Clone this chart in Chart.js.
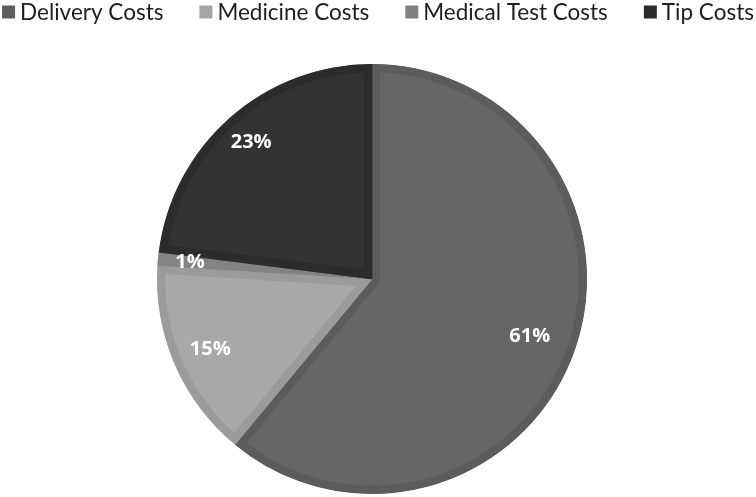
<!DOCTYPE html>
<html>
<head>
<meta charset="utf-8">
<script src="https://cdn.jsdelivr.net/npm/chart.js@4.4.0/dist/chart.umd.min.js"></script>
<style>
html,body{margin:0;padding:0;background:#fff;}
#wrap{width:756px;height:497px;}
</style>
</head>
<body>
<div id="wrap"><canvas id="c" width="756" height="497"></canvas></div>
<script>
const categories = ["Delivery Costs", "Medicine Costs", "Medical Test Costs", "Tip Costs"];
const values = [61, 15, 1, 23];
const fillColors = ["#666666", "#a8a8a8", "#8a8a8a", "#333333"];
const bandColors = ["#5c5c5c", "#9b9b9b", "#838383", "#2c2c2c"];
const legendColors = ["#5e5e5e", "#a5a5a5", "#808080", "#2a2a2a"];
const labelRadiusFrac = [0.78, 0.82, 0.85, 0.85];

const pieLabels = {
  id: 'pieLabels',
  afterDatasetsDraw(chart) {
    const ctx = chart.ctx;
    const meta = chart.getDatasetMeta(0);
    const total = values.reduce((a, b) => a + b, 0);
    ctx.save();
    ctx.fillStyle = '#ffffff';
    ctx.font = 'bold 20px "Open Sans"';
    ctx.textAlign = 'center';
    ctx.textBaseline = 'middle';
    meta.data.forEach((arc, i) => {
      const p = arc.getProps(['x', 'y', 'startAngle', 'endAngle', 'outerRadius'], true);
      const mid = (p.startAngle + p.endAngle) / 2;
      const r = p.outerRadius * labelRadiusFrac[i];
      const txt = Math.round(values[i] / total * 100) + '%';
      ctx.fillText(txt, p.x + Math.cos(mid) * r, p.y + Math.sin(mid) * r);
    });
    ctx.restore();
  }
};

// top legend drawn in one row: square box, small gap, label
const topLegend = {
  id: 'topLegend',
  afterDraw(chart) {
    const ctx = chart.ctx;
    ctx.save();
    ctx.font = '22.5px Lato';
    ctx.textBaseline = 'middle';
    ctx.textAlign = 'left';
    const box = 13, gap = 5, itemGap = 36;
    const widths = categories.map(c => ctx.measureText(c).width);
    const total = widths.reduce((a, w) => a + box + gap + w, 0) + itemGap * (categories.length - 1);
    let x = (chart.width - total) / 2;
    const cy = 12;
    categories.forEach((c, i) => {
      ctx.fillStyle = legendColors[i];
      ctx.fillRect(x, cy - box / 2, box, box);
      ctx.fillStyle = '#1e1e1e';
      ctx.fillText(c, x + box + gap, cy + 1);
      x += box + gap + widths[i] + itemGap;
    });
    ctx.restore();
  }
};

new Chart(document.getElementById('c'), {
  type: 'pie',
  data: {
    labels: categories,
    datasets: [{
      data: values,
      backgroundColor: fillColors,
      borderColor: bandColors,
      borderWidth: 8,
      borderAlign: 'inner'
    }]
  },
  options: {
    responsive: false,
    animation: false,
    layout: { padding: { top: 64, bottom: 3, left: 0, right: 12 } },
    plugins: {
      tooltip: { enabled: false },
      legend: { display: false }
    }
  },
  plugins: [pieLabels, topLegend]
});
</script>
</body>
</html>
